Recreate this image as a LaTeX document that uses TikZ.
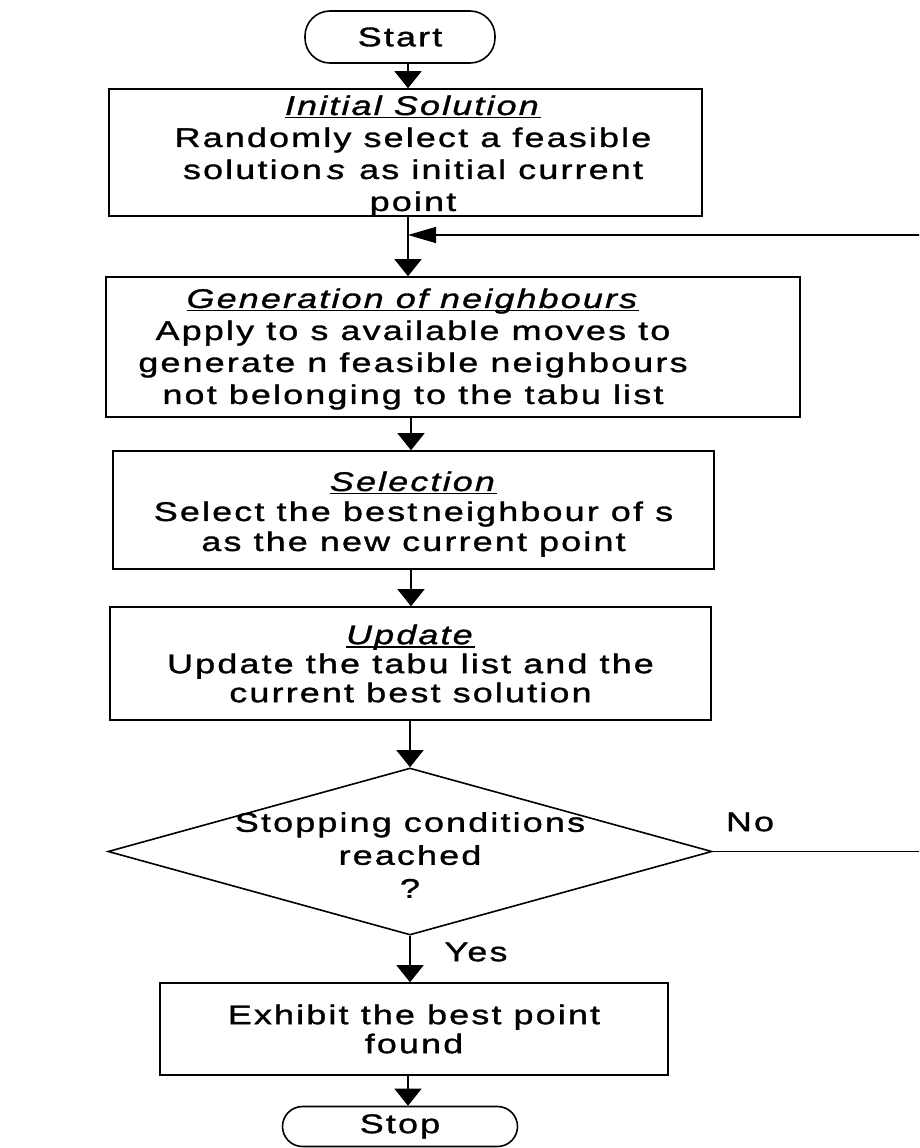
\documentclass[tikz,border=0pt]{standalone}
\usepackage{fontspec}
\setmainfont{Liberation Sans}[FakeStretch=1.33,LetterSpace=8,FakeBold=1.2]
\usetikzlibrary{arrows.meta,shapes.geometric}
% italic heading with a rule just under the baseline
\newsavebox\titlebox
\newcommand\steptitle[1]{\sbox\titlebox{\textit{#1}}%
  \rlap{\rule[-3.5pt]{\wd\titlebox}{1.4pt}}\usebox\titlebox}
\begin{document}
\begin{tikzpicture}[x=1pt,y=-1pt,
  txt/.style={align=center,inner sep=0pt,font=\fontsize{27}{32}\selectfont},
  procbox/.style={draw,line width=1.6pt,inner sep=0pt,align=center},
  termbox/.style={draw,line width=1.6pt,inner sep=0pt,font=\fontsize{27}{30}\selectfont},
  decbox/.style={draw,diamond,line width=1.6pt,inner sep=0pt,
    minimum width=604pt,minimum height=167pt},
  flow/.style={-{Triangle[width=27pt,length=17pt]},line width=1.4pt},
  back/.style={-{Triangle[width=16pt,length=28pt]},line width=1.4pt},
]
\useasboundingbox (0,0) rectangle (919,1148);
\clip (0,0) rectangle (919,1148);

% main flow axis
\coordinate (ax) at (408,0);
\coordinate (axb) at (411,0);

% terminals and process boxes
\node[termbox,rounded corners=25pt,minimum width=190pt,minimum height=52pt]
  (start) at (400,37) {Start};

\node[procbox,minimum width=593pt,minimum height=127pt] (init) at (405.5,152.5) {};
\node[txt,font=\fontsize{27}{32}\selectfont] (inittext) at (413,156)
  {\steptitle{Initial Solution}\\Randomly select a feasible\\
   solution\hspace{5pt}\textit{s} as initial current\\point};

\node[procbox,minimum width=694pt,minimum height=140pt] (gen) at (453,347) {};
\node[txt] (gentext) at (413,349)
  {\steptitle{Generation of neighbours}\\Apply to s available moves to\\
   generate n feasible neighbours\\not belonging to the tabu list};

\node[procbox,minimum width=601pt,minimum height=118pt] (sel) at (413.5,510) {};
\node[txt,font=\fontsize{27}{30}\selectfont] (seltext) at (413.5,514)
  {\steptitle{Selection}\\Select the best\,neighbour of s\\as the new current point};

\node[procbox,minimum width=601pt,minimum height=113pt,
  font=\fontsize{27}{29}\selectfont] (upd) at (410.5,663.5)
  {\steptitle{Update}\\Update the tabu list and the\\current best solution};

\node[decbox] (dec) at (410,851.5) {};
\node[txt,font=\fontsize{27}{33}\selectfont] (dectext) at (410,855)
  {Stopping conditions\\reached\\?};

\node[procbox,minimum width=508pt,minimum height=92pt,
  font=\fontsize{27}{29}\selectfont] (show) at (414,1029)
  {Exhibit the best point\\found};

\node[termbox,rounded corners=20pt,minimum width=235pt,minimum height=40pt]
  (stop) at (400,1126.5) {Stop};

% branch labels
\node[txt] (nolab) at (750,822) {No};
\node[txt] (yeslab) at (476,952) {Yes};

% connectors
\draw[flow] (start.south -| ax) -- (init.north -| ax);
\draw[flow] (init.south -| ax) -- (gen.north -| ax);
\draw[flow] (gen.south -| axb) -- (sel.north -| axb);
\draw[flow] (sel.south -| axb) -- (upd.north -| axb);
\draw[flow] (upd.south -| dec.north) -- (dec.north);
\draw[flow] (dec.south) -- (show.north -| dec.south);
\draw[flow] (show.south -| ax) -- (stop.north -| ax);

% loop back when the stopping conditions are not met
\coordinate (far) at (935,235);
\draw[back] (dec.east) -| (far) -- (far -| ax);
\end{tikzpicture}
\end{document}
